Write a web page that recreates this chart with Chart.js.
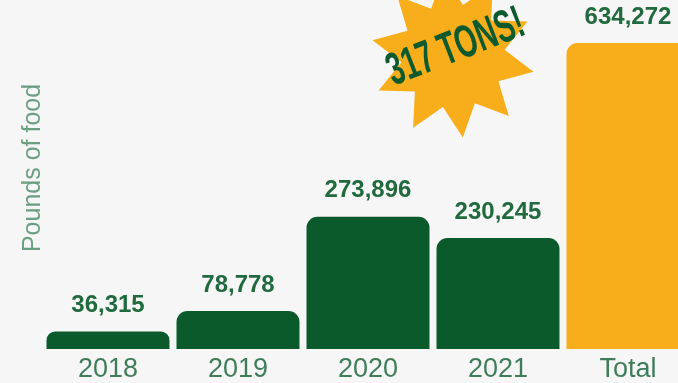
<!DOCTYPE html>
<html>
<head>
<meta charset="utf-8">
<script src="https://cdn.jsdelivr.net/npm/chart.js@4.4.1/dist/chart.umd.min.js"></script>
<style>
  html, body { margin: 0; padding: 0; background: #f6f6f6; overflow: hidden; }
  #wrap { width: 678px; height: 383px; overflow: hidden; }
</style>
</head>
<body>
<div id="wrap"><canvas id="chart" width="700" height="383"></canvas></div>
<script>
const years = ['2018', '2019', '2020', '2021', 'Total'];
const pounds = [36315, 78778, 273896, 230245, 634272];
const barColors = ['#0b5a2c', '#0b5a2c', '#0b5a2c', '#0b5a2c', '#f7ae1a'];
const axisTitle = 'Pounds of food';
const burstText = '317 TONS!';

// background fill
const bgPlugin = {
    id: 'bg',
    beforeDraw(chart) {
        const ctx = chart.ctx;
        ctx.save();
        ctx.fillStyle = '#f6f6f6';
        ctx.fillRect(0, 0, chart.width, chart.height);
        ctx.restore();
    }
};

// starburst with "317 TONS!" and the rotated axis title
const decoPlugin = {
    id: 'deco',
    beforeDatasetsDraw(chart) {
        const ctx = chart.ctx;
        ctx.save();
        const cx = 453, cy = 56, outer = 82, inner = 52, pts = 10;
        ctx.translate(cx, cy);
        ctx.rotate(-0.12);
        ctx.beginPath();
        for (let i = 0; i < pts * 2; i++) {
            const r = i % 2 === 0 ? outer : inner;
            const a = -Math.PI / 2 + i * Math.PI / pts;
            const x = Math.cos(a) * r, y = Math.sin(a) * r;
            if (i === 0) ctx.moveTo(x, y); else ctx.lineTo(x, y);
        }
        ctx.closePath();
        ctx.fillStyle = '#f7ae1a';
        ctx.fill();
        ctx.restore();

        ctx.save();
        ctx.translate(456, 48);
        ctx.rotate(-0.37);
        ctx.scale(0.62, 1);
        ctx.fillStyle = '#0d5a2e';
        ctx.font = 'bold 46px "Liberation Sans"';
        ctx.textAlign = 'center';
        ctx.textBaseline = 'middle';
        ctx.fillText(burstText, 0, 0);
        ctx.restore();

        // y axis title
        ctx.save();
        ctx.translate(33, 168);
        ctx.rotate(-Math.PI / 2);
        ctx.fillStyle = '#6a9f80';
        ctx.font = '25px "Liberation Sans"';
        ctx.textAlign = 'center';
        ctx.textBaseline = 'middle';
        ctx.fillText(axisTitle, 0, 0);
        ctx.restore();
    }
};

// value labels above the bars
const valuePlugin = {
    id: 'values',
    afterDatasetsDraw(chart) {
        const ctx = chart.ctx;
        const meta = chart.getDatasetMeta(0);
        ctx.save();
        ctx.fillStyle = '#206a3e';
        ctx.font = 'bold 24px "Liberation Sans"';
        ctx.textAlign = 'center';
        ctx.textBaseline = 'bottom';
        meta.data.forEach((bar, i) => {
            ctx.fillText(pounds[i].toLocaleString('en-US'), bar.x, bar.y - 14);
        });
        ctx.restore();
    }
};

new Chart(document.getElementById('chart'), {
    type: 'bar',
    data: {
        labels: years,
        datasets: [{
            data: pounds,
            backgroundColor: barColors,
            borderRadius: { topLeft: 11, topRight: 11, bottomLeft: 0, bottomRight: 0 },
            borderSkipped: 'bottom',
            barPercentage: 0.946,
            categoryPercentage: 1
        }]
    },
    options: {
        responsive: false,
        animation: false,
        devicePixelRatio: 1,
        layout: { padding: { left: 43, right: 7, top: 0, bottom: 0 } },
        plugins: {
            legend: { display: false },
            tooltip: { enabled: false }
        },
        scales: {
            x: {
                grid: { display: false },
                border: { display: false },
                afterFit(scale) { scale.height = 34; },
                ticks: {
                    color: '#3f7d5a',
                    padding: -3,
                    font: { family: '"Liberation Sans"', size: 27, lineHeight: 1.12 }
                }
            },
            y: {
                display: false,
                min: 0,
                max: 723400
            }
        }
    },
    plugins: [bgPlugin, decoPlugin, valuePlugin]
});
</script>
</body>
</html>
